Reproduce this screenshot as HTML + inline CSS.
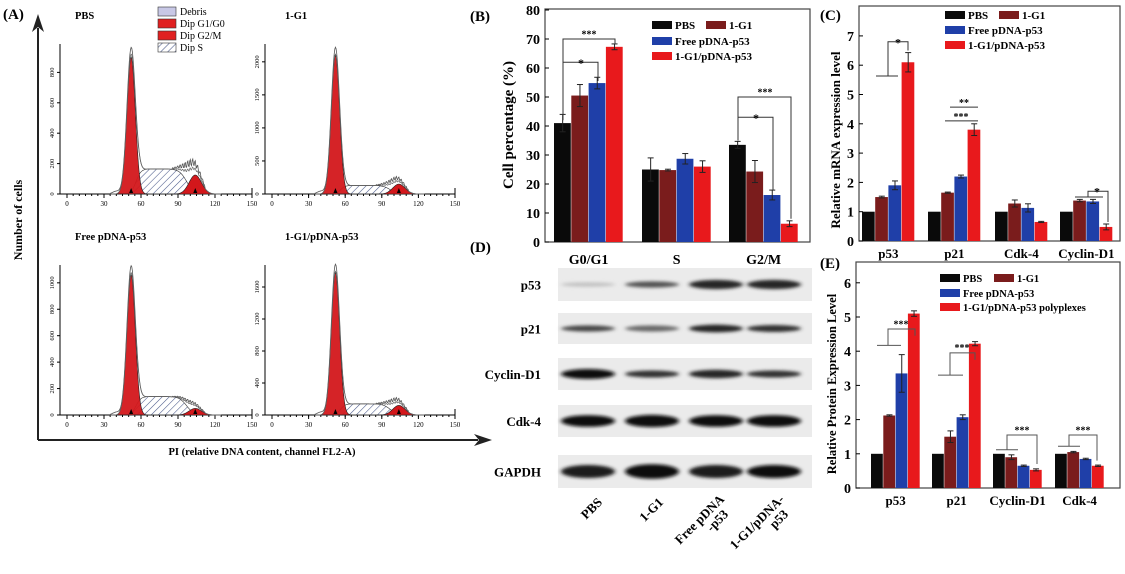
<!DOCTYPE html>
<html><head><meta charset="utf-8"><style>
html,body{margin:0;padding:0;background:#fff;}
svg{display:block;font-family:"Liberation Serif",serif;font-weight:bold;}
</style></head><body>
<svg id="s" width="1125" height="574" viewBox="0 0 1125 574" xmlns="http://www.w3.org/2000/svg">
<defs>
<filter id="bl" x="-20%" y="-100%" width="140%" height="300%"><feGaussianBlur stdDeviation="2.2 1.6"/></filter>
<pattern id="hat" width="5" height="5" patternUnits="userSpaceOnUse" patternTransform="rotate(45)"><rect width="5" height="5" fill="#fff"/><line x1="0" y1="0" x2="0" y2="5" stroke="#4a5a8a" stroke-width="1.1"/></pattern>
</defs>
<g id="g"></g>
</svg>
<script>
var G=document.getElementById('g'),h='';
function T(x,y,t,s,a,ex){h+='<text x="'+x+'" y="'+y+'" font-size="'+s+'" text-anchor="'+(a||'start')+'" '+(ex||'')+'>'+t+'</text>';}
function L(x1,y1,x2,y2,c,w){h+='<line x1="'+x1+'" y1="'+y1+'" x2="'+x2+'" y2="'+y2+'" stroke="'+(c||'#000')+'" stroke-width="'+(w||1)+'"/>';}
function R(x,y,w,hh,f,ex){h+='<rect x="'+x+'" y="'+y+'" width="'+w+'" height="'+hh+'" fill="'+f+'" '+(ex||'')+'/>';}
var C=['#0a0a0a','#7a1c1c','#1f3fa8','#e8191c'];
// Panel A
T(3,19,'(A)',15);
L(38,440,38,28,'#222',2);h+='<path d="M38,14 L32,32 L38,27 L44,32z" fill="#222"/>';
L(38,440,478,440,'#222',2);h+='<path d="M492,440 L474,434 L479,440 L474,446z" fill="#222"/>';
T(22,220,'Number of cells',12,'middle','transform="rotate(-90 22 220)"');
T(262,455,'PI (relative DNA content, channel FL2-A)',10.5,'middle');
function gs(x,m,s){return Math.exp(-(x-m)*(x-m)/(2*s*s));}
function hist(x0,x1,yb,ymax,ticks,title,H1,hs,h2,tx){
 var sc=(x1-x0)/150,ytop=yb-160,k=(yb-ytop-8)/ymax;
 T(tx,19+(yb>300?221:0),title,10.5);
 L(x0-7,yb,x1,yb,'#000',1);L(x0-7,yb,x0-7,ytop+10,'#000',1);
 for(var i=0;i<=150;i+=30){L(x0+i*sc,yb,x0+i*sc,yb+4);T(x0+i*sc,yb+12,i,7,'middle','font-weight="normal"');}
 for(var i=0;i<=150;i+=5)L(x0+i*sc,yb,x0+i*sc,yb+2);
 L(x1,yb,x1,yb-6);
 ticks.forEach(function(t){var y=yb-t*k;L(x0-10,y,x0-7,y);T(x0-13,y,t,6.5,'middle','font-weight="normal" transform="rotate(-90 '+(x0-13)+' '+y+')"');});
 var X=function(v){return x0+v*sc;},Y=function(v){return yb-v*k;};
 var g1='',g2='',sp='',ol='',ol2='';
 var sF=function(v){return hs*(1/(1+Math.exp(-(v-56)/2)))*(1/(1+Math.exp((v-97)/3)));};
 for(var v=35;v<=125;v+=0.5){
  var a=H1*gs(v,52,3.4),b=h2*gs(v,104,5),c=sF(v);
  g1+=X(v)+','+Y(a)+' ';g2+=X(v)+','+Y(b)+' ';sp+=X(v)+','+Y(c)+' ';
  var n=(v>85&&v<112)?(Math.sin(v*3.1)*0.25+0.7)*h2*gs(v,100,7)*0.8:0;
  ol+=X(v)+','+Y(a*1.05+b+c+n+H1*0.02*gs(v,40,3))+' ';ol2+=X(v)+','+Y(a+b+c+n*0.4)+' ';
 }
 h+='<polygon points="'+X(35)+','+yb+' '+sp+X(125)+','+yb+'" fill="url(#hat)" stroke="#333" stroke-width="0.6"/>';
 h+='<polygon points="'+X(35)+','+yb+' '+g1+X(125)+','+yb+'" fill="#d3171b" fill-opacity="0.95" stroke="#222" stroke-width="0.6"/>';
 h+='<polygon points="'+X(35)+','+yb+' '+g2+X(125)+','+yb+'" fill="#d3171b" stroke="#222" stroke-width="0.6"/>';
 h+='<polyline points="'+ol+'" fill="none" stroke="#555" stroke-width="0.8"/>';
 h+='<polyline points="'+ol2+'" fill="none" stroke="#666" stroke-width="0.7"/>';
 h+='<path d="M'+(X(52)-2)+','+(yb-1)+' l2,-5 l2,5z M'+(X(104)-2)+','+(yb-1)+' l2,-5 l2,5z" fill="#000"/>';
}
hist(67,252,194,1000,[0,200,400,600,800],'PBS',900,165,125,75);
hist(272,455,194,2300,[0,500,1000,1500,2000],'1-G1',2100,130,150,285);
hist(67,252,415,1150,[0,200,400,600,800,1000],'Free pDNA-p53',1060,140,50,75);
hist(272,455,415,1900,[0,400,800,1200,1600],'1-G1/pDNA-p53',1780,140,120,285);
var ly=[8,20,32,44],ln=['Debris','Dip G1/G0','Dip G2/M','Dip S'],lf=['#c8c8e6','#e02020','#e02020','url(#hat)'];
for(var i=0;i<4;i++){R(158,ly[i]-1,18,9,lf[i],'stroke="#333" stroke-width="0.6"');T(180,ly[i]+7,ln[i],10,'start','font-weight="normal"');}

function bars(o){
 var X0=o.x0,X1=o.x1,yb=o.yb,k=o.k;
 R(X0,o.yt,X1-X0,yb-o.yt,'none','stroke="#444" stroke-width="1.2"');
 o.ticks.forEach(function(t){var y=yb-t*k;L(X0,y,X0+4,y);T(X0-5,y+5,t,o.ts,'end');});
 o.groups.forEach(function(g){
  for(var i=0;i<4;i++){var x=g.x+i*o.bw,v=g.v[i],e=g.e[i];
   R(x,yb-v*k,o.bw-0.5,v*k,C[i]);
   if(e>0){var cx=x+o.bw/2;L(cx,yb-(v+e)*k,cx,yb-(v-e)*k,'#222',1);L(cx-3,yb-(v+e)*k,cx+3,yb-(v+e)*k,'#222',1);L(cx-3,yb-(v-e)*k,cx+3,yb-(v-e)*k,'#222',1);}
  }
  T(g.x+2*o.bw,o.ly,g.n,o.ls,'middle');
 });
}
function leg(x,y,items,fs){items.forEach(function(it){R(it[0]+x,it[1]+y,20,8,C[it[2]]);T(it[0]+x+23,it[1]+y+8,it[3],fs);});}
T(470,21,'(B)',15);T(470,252,'(D)',15);
T(513,125,'Cell percentage (%)',15,'middle','transform="rotate(-90 513 125)"');
bars({x0:545,x1:810,yt:9,yb:242,k:2.9,ticks:[0,10,20,30,40,50,60,70,80],ts:14,bw:17.3,ly:264,ls:14,
 groups:[{x:554,n:'G0/G1',v:[41,50.5,54.8,67.3],e:[3,3.8,2,1]},{x:642,n:'S',v:[25,24.8,28.7,26],e:[4,0.3,1.8,2]},{x:729,n:'G2/M',v:[33.5,24.3,16.2,6.3],e:[1.2,3.8,1.7,1]}]});
leg(652,21,[[0,0,0,'PBS'],[54,0,1,'1-G1'],[0,16,2,'Free pDNA-p53'],[0,31,3,'1-G1/pDNA-p53']],11);
var yB=function(v){return 242-v*2.9;};
h+='<path d="M563,'+yB(42)+' V'+yB(70)+' H615 V'+yB(68.5)+' M563,'+yB(62)+' H598 V'+yB(55.5)+'" fill="none" stroke="#333"/>';T(589,yB(70.5),'***',10,'middle');T(581,yB(62.5)+6,'*',12,'middle');
h+='<path d="M738,'+yB(35)+' V'+yB(50)+' H791 V'+yB(8)+' M738,'+yB(43)+' H773 V'+yB(18)+'" fill="none" stroke="#333"/>';T(765,yB(50.5),'***',10,'middle');T(756,yB(43.5)+6,'*',12,'middle');
T(820,20,'(C)',15);
T(840,140,'Relative  mRNA expression level',13,'middle','transform="rotate(-90 840 140)"');
bars({x0:859,x1:1120,yt:6,yb:241,k:29.3,ticks:[0,1,2,3,4,5,6,7],ts:14,bw:13.2,ly:258,ls:13,
 groups:[{x:862,n:'p53',v:[1,1.5,1.9,6.1],e:[0,0.03,0.15,0.33]},{x:928,n:'p21',v:[1,1.65,2.2,3.8],e:[0,0.02,0.05,0.2]},{x:995,n:'Cdk-4',v:[1,1.28,1.13,0.65],e:[0,0.12,0.14,0.02]},{x:1060,n:'Cyclin-D1',v:[1,1.38,1.35,0.48],e:[0,0.04,0.07,0.1]}]});
leg(945,11,[[0,0,0,'PBS'],[54,0,1,'1-G1'],[0,15,2,'Free pDNA-p53'],[0,30,3,'1-G1/pDNA-p53']],11);
var yC=function(v){return 241-v*29.3;};
h+='<path d="M876,'+yC(5.63)+' H898 M888,'+yC(5.63)+' V'+yC(6.8)+' H908 V'+yC(6.5)+'" fill="none" stroke="#333"/>';T(898,yC(6.85)+6,'*',12,'middle');
L(950,yC(4.57),978,yC(4.57),'#333');L(945,yC(4.1),978,yC(4.1),'#333');T(964,yC(4.6),'**',10,'middle');T(961,yC(4.13),'***',10,'middle');
h+='<path d="M1075,'+yC(1.5)+' H1103 M1088,'+yC(1.5)+' V'+yC(1.7)+' H1108 V'+yC(0.65)+'" fill="none" stroke="#333"/>';T(1097,yC(1.72)+5,'*',12,'middle');
T(820,268,'(E)',15);
T(836,384,'Relative Protein Expression Level',12.5,'middle','transform="rotate(-90 836 384)"');
bars({x0:856,x1:1120,yt:262,yb:488,k:34.2,ticks:[0,1,2,3,4,5,6],ts:14,bw:12.3,ly:505,ls:13,
 groups:[{x:871,n:'p53',v:[1,2.12,3.35,5.1],e:[0,0.02,0.55,0.08]},{x:932,n:'p21',v:[1,1.5,2.07,4.22],e:[0,0.17,0.07,0.06]},{x:993,n:'Cyclin-D1',v:[1,0.9,0.65,0.53],e:[0,0.07,0.02,0.03]},{x:1055,n:'Cdk-4',v:[1,1.05,0.85,0.65],e:[0,0.02,0.02,0.02]}]});
leg(940,274,[[0,0,0,'PBS'],[54,0,1,'1-G1'],[0,15,2,'Free pDNA-p53'],[0,29,3,'1-G1/pDNA-p53 polyplexes']],10.5);
var yE=function(v){return 488-v*34.2;};
h+='<path d="M877,'+yE(4.17)+' H901 M888,'+yE(4.17)+' V'+yE(4.65)+' H915 V'+yE(4.45)+'" fill="none" stroke="#555"/>';T(901,yE(4.7),'***',10,'middle');
h+='<path d="M938,'+yE(3.3)+' H963 M950,'+yE(3.3)+' V'+yE(3.95)+' H975 V'+yE(3.75)+'" fill="none" stroke="#555"/>';T(962,yE(4),'***',10,'middle');
h+='<path d="M996,'+yE(1.12)+' H1018 M1007,'+yE(1.12)+' V'+yE(1.55)+' H1037 V'+yE(0.7)+'" fill="none" stroke="#555"/>';T(1022,yE(1.6),'***',10,'middle');
h+='<path d="M1058,'+yE(1.22)+' H1080 M1069,'+yE(1.22)+' V'+yE(1.55)+' H1097 V'+yE(0.8)+'" fill="none" stroke="#555"/>';T(1083,yE(1.6),'***',10,'middle');
var rows=[['p53',268,301,[[0.2,3],[0.7,4],[0.9,6],[0.9,6]]],['p21',313,344,[[0.75,4],[0.6,4],[0.9,5],[0.85,4.5]]],['Cyclin-D1',358,390,[[1,6.5],[0.85,4.5],[0.9,5.5],[0.85,4.5]]],['Cdk-4',405,437,[[1,7.5],[1,8],[1,7.5],[1,7.5]]],['GAPDH',455,488,[[0.95,8.5],[1,9.5],[0.95,8.5],[1,8.5]]]];
var lanes=[588,652,716,774];
rows.forEach(function(r){
 R(558,r[1],254,r[2]-r[1],'#ebebeb');
 var cy=(r[1]+r[2])/2;
 r[3].forEach(function(b,i){var g=Math.round(240-b[0]*225);h+='<ellipse cx="'+lanes[i]+'" cy="'+cy+'" rx="27" ry="'+b[1]/1.3+'" fill="rgb('+g+','+g+','+g+')" filter="url(#bl)"/>';});
 T(541,cy+5,r[0],13,'end');
});
[['PBS',603,503],['1-G1',664,503],['Free pDNA',725,500],['-p53',729,515],['1-G1/pDNA-',785,500],['p53',789,515]].forEach(function(t){T(t[1],t[2],t[0],13,'end','transform="rotate(-45 '+t[1]+' '+t[2]+')"');});
G.innerHTML=h;
</script>
</body></html>
